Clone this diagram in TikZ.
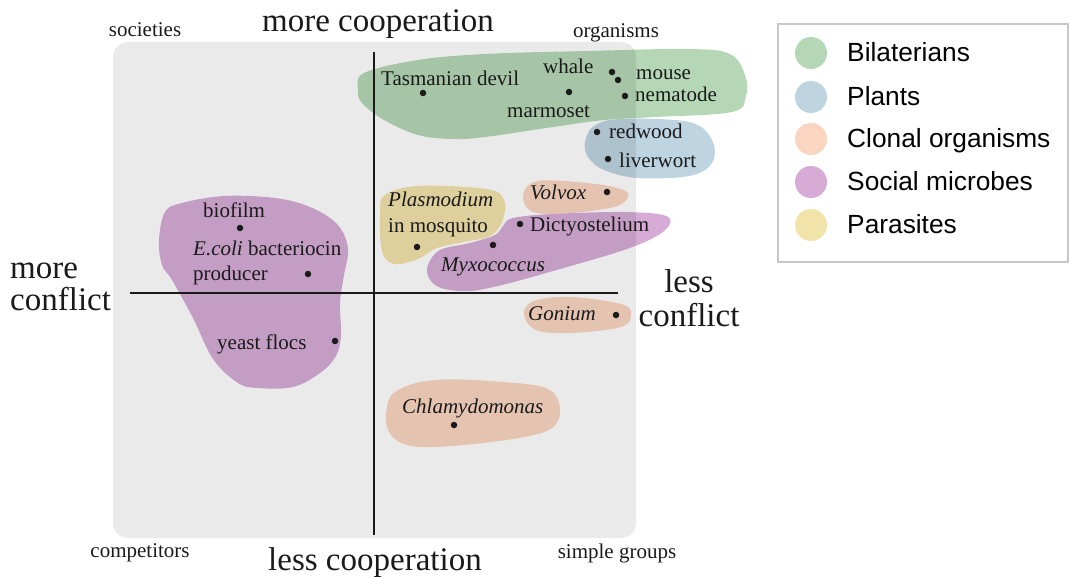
\documentclass[tikz,border=0pt]{standalone}
\usepackage{fontspec}
\setmainfont{Liberation Serif}
\newfontfamily\legendfont{Liberation Sans}
\usepackage{tikz}
\usetikzlibrary{positioning, calc}

\definecolor{bilat}{HTML}{B5D7B5}
\definecolor{plant}{HTML}{BED4E1}
\definecolor{clonal}{HTML}{FAD5C1}
\definecolor{socmic}{HTML}{D6ACD6}
\definecolor{parasite}{HTML}{F1E3AA}
\definecolor{panel}{HTML}{EAEAEA}
\definecolor{ink}{HTML}{1A1A1A}

\begin{document}
\begin{tikzpicture}[
    x=1pt, y=-1pt,
    panelbox/.style={fill=panel, rounded corners=15pt},
    axisline/.style={draw=ink, line width=2pt},
    blob/.style={fill=#1, smooth cycle, tension=0.6},
    dot/.style={circle, fill=ink, inner sep=0pt, minimum size=6.5pt},
    species/.style={font=\fontsize{21}{24}\selectfont, text=ink, inner sep=0pt, anchor=base west},
    axislabel/.style={font=\fontsize{33}{33}\selectfont, text=ink, inner sep=0pt, anchor=base},
    cornerlabel/.style={font=\fontsize{21}{24}\selectfont, text=ink, inner sep=0pt, anchor=base},
    swatch/.style={circle, fill=#1, inner sep=0pt, minimum size=32pt},
    legendtext/.style={font=\legendfont\fontsize{26.3}{28}\selectfont, inner sep=0pt, anchor=base west}
]
    \useasboundingbox (0,0) rectangle (1070,577);

    % --- panel and axes ---
    \fill [panelbox] (113,42) rectangle (636,538);
    \coordinate (vtop) at (374,52);
    \coordinate (vbot) at (374,535);
    \coordinate (hleft) at (130,293);
    \coordinate (hright) at (618,293);

    % --- groups ---
    \begin{scope}[blend mode=multiply]
        \fill [blob=bilat] plot coordinates {(358,90) (364,73) (418,60) (485,54) (587,51) (689,49) (730,54) (745,75) (746,96) (732,112) (655,117) (604,120) (553,127) (485,137) (452,139) (418,135) (384,120) (362,103)};
        \fill [blob=plant] plot coordinates {(585,142) (594,126) (621,119) (689,122) (712,140) (712,163) (689,176) (638,178) (604,170) (588,157)};
        \fill [blob=clonal] plot coordinates {(523,195) (538,181) (587,183) (621,189) (628,197) (614,207) (570,213) (533,212)};
        \fill [blob=parasite] plot coordinates {(380,212) (385,195) (418,186) (486,189) (504,200) (502,222) (490,236) (469,241) (437,248) (418,259) (394,264) (382,251)};
        \fill [blob=socmic] plot coordinates {(428,265) (440,250) (470,243) (495,235) (503,226) (513,218) (553,214) (621,212) (663,215) (670,224) (655,237) (621,251) (553,271) (502,285) (469,291) (441,288) (429,278)};
        \fill [blob=clonal] plot coordinates {(524,314) (534,301) (570,297) (621,304) (631,314) (621,327) (570,333) (536,330)};
        \fill [blob=clonal] plot coordinates {(386,415) (395,392) (435,380) (503,382) (548,389) (560,409) (552,428) (519,438) (452,446) (411,446) (391,435)};
        \fill [blob=socmic] plot coordinates {(159,240) (165,212) (182,203) (224,196) (275,198) (310,207) (337,224) (348,248) (344,275) (340,303) (341,335) (336,356) (320,373) (293,387) (258,388) (238,383) (213,359) (193,318) (172,280) (162,265)};
    \end{scope}

    \draw [axisline] (vtop) -- (vbot);
    \draw [axisline] (hleft) -- (hright);

    % --- axis labels ---
    \node [axislabel] (morecoop) at (378,32) {more cooperation};
    \node [axislabel] (lesscoop) at (375,570) {less cooperation};
    \node [axislabel, anchor=base west] (moreconf1) at (10,278) {more};
    \node [axislabel, anchor=base west] (moreconf2) at (10,310) {conflict};
    \node [axislabel] (lessconf1) at (689,292) {less};
    \node [axislabel] (lessconf2) at (689,326) {conflict};

    % --- corner labels ---
    \node [cornerlabel] (soc) at (145,37) {societies};
    \node [cornerlabel] (org) at (616,38) {organisms};
    \node [cornerlabel] (comp) at (140,557) {competitors};
    \node [cornerlabel] (simple) at (617,558) {simple groups};

    % --- data points ---
    \node [dot] (dtas) at (423,93) {};
    \node [dot] (dmar) at (569,92) {};
    \node [dot] (dwha) at (612,72) {};
    \node [dot] (dmou) at (618,80) {};
    \node [dot] (dnem) at (625,96) {};
    \node [dot] (dred) at (597,132) {};
    \node [dot] (dliv) at (608,159) {};
    \node [dot] (dvol) at (607,192) {};
    \node [dot] (dpla) at (417,247) {};
    \node [dot] (ddic) at (520,224) {};
    \node [dot] (dmyx) at (493,245) {};
    \node [dot] (dbio) at (240,228) {};
    \node [dot] (deco) at (308,274) {};
    \node [dot] (dyea) at (335,341) {};
    \node [dot] (dgon) at (616,315) {};
    \node [dot] (dchl) at (454,425) {};

    % --- species names ---
    \node [species] (ltas) at (381,86) {Tasmanian devil};
    \node [species] (lwha) at (543,74) {whale};
    \node [species] (lmou) at (636,80) {mouse};
    \node [species] (lnem) at (635,102) {nematode};
    \node [species] (lmar) at (507,118) {marmoset};
    \node [species] (lred) at (609,139) {redwood};
    \node [species] (lliv) at (619,168) {liverwort};
    \node [species] (lvol) at (530,200) {\itshape Volvox};
    \node [species] (lpla1) at (388,207) {\itshape Plasmodium};
    \node [species] (lpla2) at (388,233) {in mosquito};
    \node [species] (ldic) at (530,232) {Dictyostelium};
    \node [species] (lmyx) at (441,271) {\itshape Myxococcus};
    \node [species] (lbio) at (203,218) {biofilm};
    \node [species] (leco1) at (193,255) {\textit{E.coli} bacteriocin};
    \node [species] (leco2) at (193,280) {producer};
    \node [species] (lyea) at (217,349) {yeast flocs};
    \node [species] (lgon) at (528,320) {\itshape Gonium};
    \node [species] (lchl) at (402,413) {\itshape Chlamydomonas};

    % --- legend ---
    \draw [draw=black!22, line width=1.6pt] (778,24) rectangle (1068,262);
    \node [swatch=bilat] (sw1) at (811,53) {};
    \node [swatch=plant] (sw2) at (811,97) {};
    \node [swatch=clonal] (sw3) at (811,139) {};
    \node [swatch=socmic] (sw4) at (811,182) {};
    \node [swatch=parasite] (sw5) at (811,225) {};
    \node [legendtext] (lg1) at (847,62) {Bilaterians};
    \node [legendtext] (lg2) at (847,106) {Plants};
    \node [legendtext] (lg3) at (847,148) {Clonal organisms};
    \node [legendtext] (lg4) at (847,191) {Social microbes};
    \node [legendtext] (lg5) at (847,234) {Parasites};
\end{tikzpicture}
\end{document}
